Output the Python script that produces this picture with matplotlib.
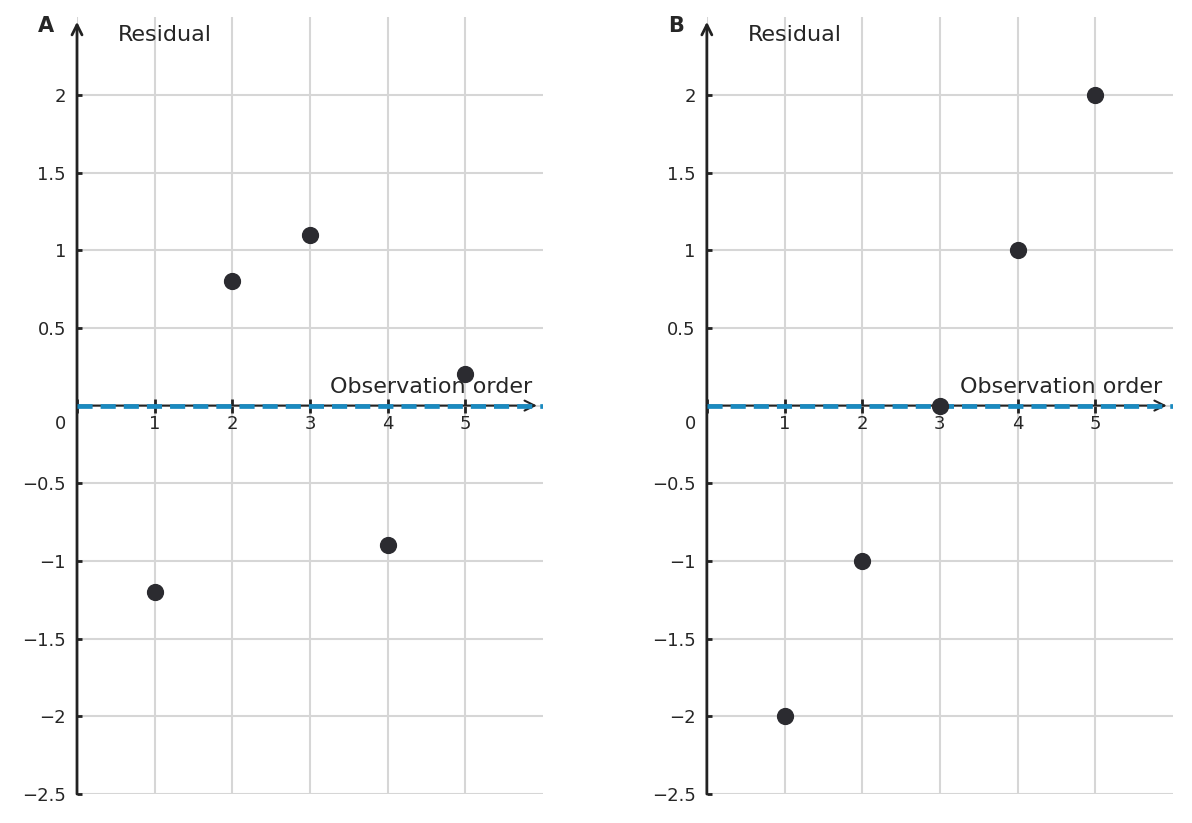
import matplotlib
matplotlib.use("Agg")
import matplotlib.pyplot as plt

# Residuen je Beobachtung
order = [1, 2, 3, 4, 5]
resid_a = [-1.2, 0.8, 1.1, -0.9, 0.2]
resid_b = [-2.0, -1.0, 0.0, 1.0, 2.0]
panels = ["A", "B"]
yticks = [-2.5, -2, -1.5, -1, -0.5, 0, 0.5, 1, 1.5, 2]
ytick_labels = ["\u22122.5", "\u22122", "\u22121.5", "\u22121", "\u22120.5", "", "0.5", "1", "1.5", "2"]

text_col = "#262626"
axis_col = "#222222"
blue = "#1a8ac0"
grid_col = "#d6d6d6"

fig = plt.figure(figsize=(11.92, 8.23), dpi=100)
lefts = [0.0646, 0.593]

for left, resid, letter in zip(lefts, [resid_a, resid_b], panels):
    ax = fig.add_axes([left, 0.0352, 0.391, 0.944])
    ax.set_xlim(0, 6)
    ax.set_ylim(-2.5, 2.5)

    ax.set_yticks(yticks)
    ax.set_yticklabels(ytick_labels)
    ax.set_xticks([0, 1, 2, 3, 4, 5])
    ax.set_xticklabels(["", "1", "2", "3", "4", "5"])

    for s in ["top", "right", "left"]:
        ax.spines[s].set_visible(False)
    ax.spines["bottom"].set_position(("data", 0))
    ax.spines["bottom"].set_color("none")

    ax.grid(True, color=grid_col, linewidth=1.5, zorder=0)
    ax.set_axisbelow(True)

    ax.tick_params(axis="y", direction="in", length=3.5, width=2, color=axis_col,
                   labelsize=13, labelcolor=text_col, pad=8)
    ax.tick_params(axis="x", direction="inout", length=10, width=2, color=axis_col,
                   labelsize=13, labelcolor=text_col, pad=2)

    # Achsen mit Pfeilen
    ax.annotate("", xy=(0, 2.47), xytext=(0, -2.5), xycoords="data",
                arrowprops=dict(arrowstyle="->", color=axis_col, lw=2,
                                mutation_scale=18, shrinkA=0, shrinkB=0),
                annotation_clip=False)
    ax.annotate("", xy=(5.92, 0), xytext=(0, 0), xycoords="data",
                arrowprops=dict(arrowstyle="->", color=axis_col, lw=1.5,
                                mutation_scale=18, shrinkA=0, shrinkB=0),
                annotation_clip=False)

    ax.plot([0, 6], [0, 0], color=blue, linewidth=3.4, linestyle="--",
            dashes=(3.2, 1.7), zorder=4)

    ax.scatter(order, resid, s=130, color="#2b2b30", zorder=5, clip_on=False)

    ax.text(0.53, 2.387, "Residual", fontsize=16, color=text_col, va="center", ha="left")
    ax.text(5.86, 0.08, "Observation order", fontsize=16, color=text_col,
            va="baseline", ha="right")
    ax.text(-0.14, -0.12, "0", fontsize=13, color=text_col, va="center", ha="right")
    ax.text(-0.3, 2.44, letter, fontsize=15, fontweight="bold", color=text_col,
            va="center", ha="right")

fig.savefig("out.png", dpi=100)
